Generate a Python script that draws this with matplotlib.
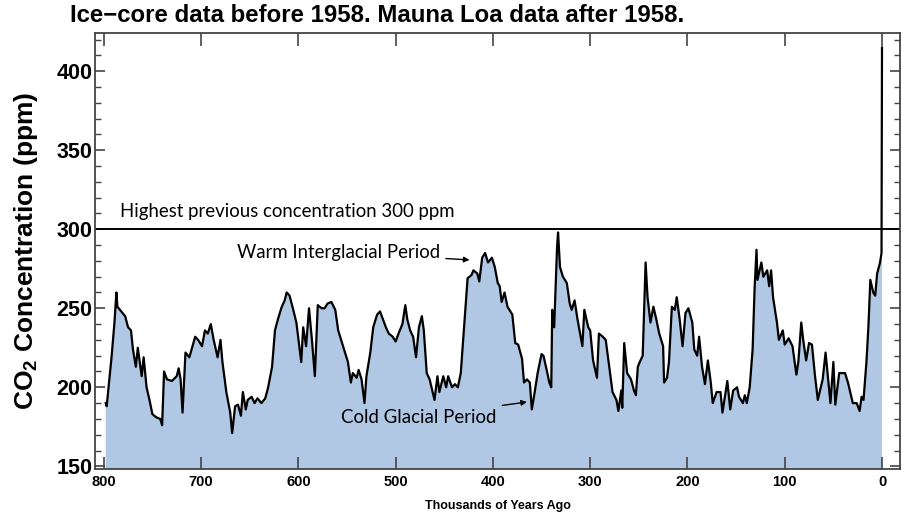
import matplotlib
matplotlib.use('Agg')
import matplotlib.pyplot as plt
from matplotlib.ticker import MultipleLocator

plt.rcParams['font.family'] = ['Liberation Sans', 'DejaVu Sans']
plt.rcParams['mathtext.fontset'] = 'custom'
plt.rcParams['mathtext.rm'] = 'Liberation Sans'
plt.rcParams['mathtext.bf'] = 'Liberation Sans:bold'

# 冰芯数据（千年前, ppm），最后一点为 Mauna Loa 现代值
kyr = [798, 797, 794, 792, 789, 787, 786, 782, 778, 775, 772, 770, 767, 765, 761, 759, 756, 753, 750, 746,
       742, 740, 738, 735, 730, 725, 723, 721, 719, 716, 712, 706, 703, 699, 696, 693, 690, 687, 683, 680,
       678, 674, 670, 668, 665, 662, 659, 657, 654, 652, 648, 645, 642, 638, 634, 631, 627, 624, 621, 617,
       614, 612, 609, 606, 602, 597, 595, 592, 589, 586, 583, 580, 576, 573, 570, 566, 562, 559, 555, 552,
       549, 546, 544, 540, 538, 535, 532, 530, 526, 523, 519, 516, 513, 510, 507, 503, 500, 497, 493, 490,
       488, 485, 482, 479, 476, 473, 471, 468, 465, 460, 457, 455, 451, 448, 446, 442, 439, 436, 433, 431,
       428, 426, 422, 420, 416, 414, 411, 408, 405, 401, 398, 395, 393, 391, 388, 385, 380, 377, 374, 370,
       368, 365, 362, 360, 357, 354, 350, 348, 344, 342, 340, 339, 337, 334, 333, 331, 328, 324, 321, 319,
       316, 313, 308, 306, 302, 300, 297, 293, 291, 287, 284, 281, 277, 273, 271, 268, 267, 265, 262, 258,
       255, 253, 251, 249, 246, 243, 241, 238, 235, 232, 229, 225, 224, 221, 219, 216, 213, 211, 208, 205,
       202, 199, 195, 193, 190, 188, 185, 182, 179, 176, 174, 170, 166, 164, 159, 156, 153, 149, 147, 143,
       141, 139, 136, 133, 131, 129, 128, 124, 122, 118, 116, 114, 112, 108, 106, 102, 100, 96, 92, 88,
       86, 83, 81, 78, 75, 72, 69, 66, 61, 58, 53, 50, 48, 44, 38, 35, 30, 26, 23, 21,
       19, 16, 14, 12, 9, 7, 5, 2, 0.5, 0]
co2 = [190, 188, 207, 219, 241, 260, 251, 248, 245, 238, 236, 224, 213, 225, 207, 219, 200, 192, 183, 181,
       180, 176, 210, 205, 204, 207, 212, 205, 184, 222, 219, 232, 230, 226, 236, 234, 240, 230, 219, 230,
       216, 197, 184, 171, 188, 189, 182, 197, 186, 192, 194, 190, 193, 190, 193, 200, 213, 236, 243, 251,
       255, 260, 258, 251, 241, 216, 238, 226, 250, 230, 207, 252, 250, 250, 253, 254, 249, 236, 228, 222,
       216, 203, 209, 206, 211, 205, 190, 207, 222, 238, 246, 248, 243, 238, 234, 232, 229, 234, 240, 252,
       243, 236, 232, 219, 238, 245, 236, 209, 205, 192, 207, 197, 207, 200, 207, 200, 202, 200, 209, 226,
       251, 269, 271, 274, 272, 267, 282, 285, 279, 282, 276, 266, 264, 254, 260, 251, 246, 228, 227, 218,
       203, 205, 203, 186, 197, 209, 221, 220, 209, 203, 200, 249, 238, 289, 298, 276, 270, 266, 253, 249,
       255, 243, 226, 249, 238, 236, 217, 206, 234, 232, 230, 216, 197, 192, 185, 198, 187, 228, 209, 205,
       198, 195, 213, 216, 220, 279, 257, 241, 251, 243, 234, 226, 203, 206, 216, 251, 249, 257, 243, 226,
       247, 250, 241, 224, 220, 232, 213, 202, 217, 203, 190, 197, 197, 184, 204, 186, 198, 200, 194, 190,
       195, 190, 200, 224, 262, 287, 268, 279, 270, 274, 264, 274, 257, 241, 230, 236, 227, 231, 226, 208,
       216, 241, 230, 217, 228, 227, 208, 192, 205, 222, 190, 216, 189, 209, 209, 203, 190, 190, 185, 194,
       192, 216, 238, 268, 260, 258, 272, 279, 285, 415]

title = 'Ice\u2212core data before 1958. Mauna Loa data after 1958.'

fig = plt.figure(figsize=(9.02, 5.12), dpi=100)
ax = fig.add_axes([95 / 902, 43 / 512, 805 / 902, 436 / 512])

ax.fill_between(kyr, co2, 0, color='#b0c8e4', lw=0)
ax.plot(kyr, co2, color='black', lw=1.6)
ax.axhline(300, color='black', lw=1.4)

ax.set_xlim(809, -18.5)
ax.set_ylim(148.3, 424.2)

ax.xaxis.set_major_locator(MultipleLocator(100))
ax.yaxis.set_major_locator(MultipleLocator(50))
ax.yaxis.set_minor_locator(MultipleLocator(10))
ax.tick_params(which='both', direction='in', top=True, right=True, color='#444444')
ax.tick_params(which='major', length=7, width=1.2)
ax.tick_params(which='minor', length=4, width=1.0)
ax.tick_params(axis='x', which='major', length=9, labelsize=10.5, pad=4)
ax.tick_params(axis='y', labelsize=15.5, pad=2)
for lab in ax.get_xticklabels() + ax.get_yticklabels():
    lab.set_fontweight('bold')
for sp in ax.spines.values():
    sp.set_color('#444444')
    sp.set_linewidth(1.3)

ax.set_xlabel('Thousands of Years Ago', fontsize=9, fontweight='bold', labelpad=8)
ax.set_ylabel(r'CO$_\mathbf{2}$ Concentration (ppm)', fontsize=19, fontweight='bold', labelpad=12)

fig.text(70 / 902, 1 - 15 / 512, title, fontsize=17.3, fontweight='bold', va='center', ha='left')

ann_font = dict(family=['Lato', 'DejaVu Sans'], fontsize=13.4)
arrow = dict(arrowstyle='-|>', color='black', lw=1, shrinkA=2, shrinkB=0, mutation_scale=8)
ax.text(783.5, 311.5, 'Highest previous concentration 300 ppm', va='center', **ann_font)
ax.annotate('Warm Interglacial Period', xy=(424, 280.6), xytext=(454, 285.5),
            ha='right', va='center', arrowprops=arrow, **ann_font)
ax.annotate('Cold Glacial Period', xy=(365, 190.7), xytext=(396, 181.2),
            ha='right', va='center', arrowprops=arrow, **ann_font)

fig.savefig('out.png', dpi=100)
